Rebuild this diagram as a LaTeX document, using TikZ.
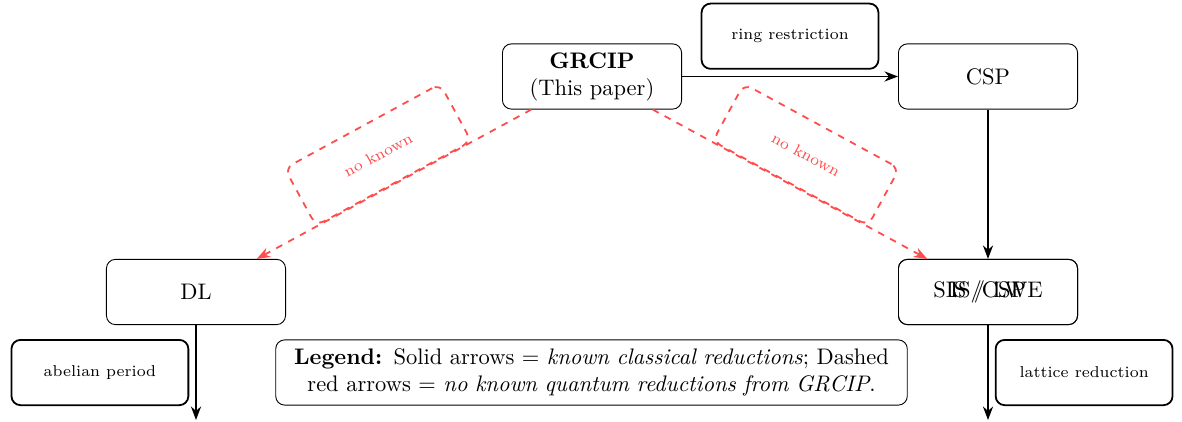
\documentclass[tikz,border=0pt]{standalone}
\usetikzlibrary{arrows.meta}
\definecolor{nkred}{RGB}{255,77,77}
\begin{document}
\begin{tikzpicture}[x=0.4444pt,y=-0.4444pt,
  mainbox/.style={draw, rounded corners=4pt, minimum width=79.6pt, minimum height=29pt, align=center, font=\normalsize, inner sep=3.33pt},
  lblbox/.style={draw, thick, rounded corners=4pt, minimum width=78.6pt, minimum height=29pt, font=\scriptsize, inner sep=3.33pt},
  redlbl/.style={draw=nkred, text=nkred, thick, dashed, rounded corners=4pt, minimum width=78.6pt, minimum height=29pt, font=\scriptsize, inner sep=3.33pt},
  solidarrow/.style={thick, -{Stealth[length=6pt,width=4.5pt]}},
  redarrow/.style={thick, dashed, nkred, -{Stealth[length=6pt,width=4.5pt]}}]
\useasboundingbox (0,0) rectangle (1182,422);
\node[mainbox] (g) at (592,76.5) {\textbf{GRCIP}\\(This paper)};
\node[mainbox] (csp) at (988,76.5) {CSP};
\node[mainbox] (dl) at (196,292) {DL};
\node[mainbox] (sis) at (988,292) {SIS / LWE};
\node[mainbox] (iscsp) at (988,292) {IS/CSP};
\node[mainbox, text width=274pt] (legend) at (591.5,372.5) {\textbf{Legend:} Solid arrows $=$ \emph{known classical reductions}; Dashed red arrows $=$ \emph{no known quantum reductions from GRCIP}.};
\coordinate (dlend) at (196,420);
\coordinate (sisend) at (988,420);
\draw[solidarrow] (g) -- node[lblbox, above=3pt] (l1) {ring restriction} (csp);
\draw[solidarrow] (csp) -- (sis);
\draw[solidarrow] (dl) -- node[lblbox, left=3pt] (l2) {abelian period} (dlend);
\draw[solidarrow] (sis) -- node[lblbox, right=3pt] (l3) {lattice reduction} (sisend);
\draw[redarrow] (g) -- node[redlbl, above, sloped] (l4) {no known} (dl);
\draw[redarrow] (g) -- node[redlbl, above, sloped] (l5) {no known} (sis);
\end{tikzpicture}
\end{document}
